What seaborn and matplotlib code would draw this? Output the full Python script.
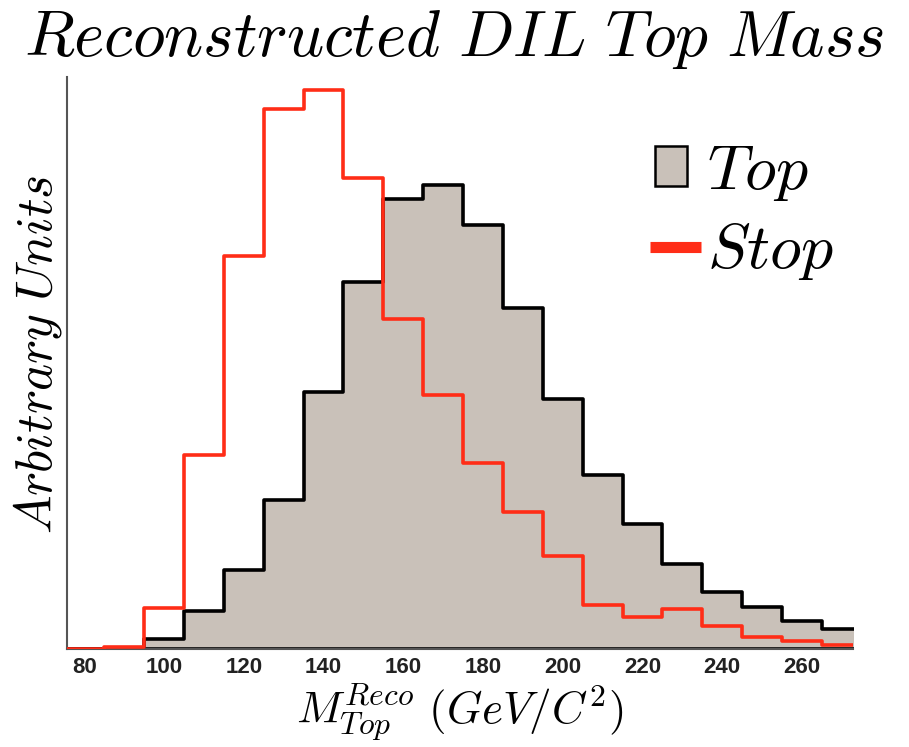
import numpy as np
import pandas as pd
import seaborn as sns
import matplotlib
matplotlib.use("Agg")
import matplotlib.pyplot as plt
from matplotlib.patches import Patch, Rectangle
from matplotlib.lines import Line2D
from matplotlib.legend_handler import HandlerPatch

# Reconstructed dilepton top-mass spectra, 10 GeV bins from 75 to 275
bin_edges = [75, 85, 95, 105, 115, 125, 135, 145, 155, 165, 175,
             185, 195, 205, 215, 225, 235, 245, 255, 265, 275]
top_counts = [0, 0, 10, 38, 79, 149, 257, 367, 450, 464,
              424, 341, 250, 174, 125, 85, 57, 42, 28, 20]
stop_counts = [0, 2, 41, 194, 393, 540, 559, 471, 330, 254,
               186, 137, 93, 44, 32, 40, 23, 12, 8, 4]
x_ticks = [80, 100, 120, 140, 160, 180, 200, 220, 240, 260]

centers = [(a + b) / 2 for a, b in zip(bin_edges[:-1], bin_edges[1:])]
df = pd.DataFrame({"mass": centers, "top": top_counts, "stop": stop_counts})

sns.set_style("white")
plt.rcParams["mathtext.fontset"] = "cm"
plt.rcParams["text.color"] = "black"
plt.rcParams["axes.labelcolor"] = "black"

TOP_FILL = "#c9c1b9"
STOP_RED = "#ff2d17"


class SmallBoxHandler(HandlerPatch):
    """Legend key drawn as a compact square box."""

    def create_artists(self, legend, orig_handle, xdescent, ydescent,
                       width, height, fontsize, trans):
        w = width * 0.62
        h = height * 1.05
        x0 = -xdescent + (width - w) / 2 - width * 0.09
        y0 = -ydescent + (height - h) / 2
        rect = Rectangle((x0, y0), w, h,
                         facecolor=orig_handle.get_facecolor(),
                         edgecolor=orig_handle.get_edgecolor(),
                         linewidth=orig_handle.get_linewidth())
        rect.set_transform(trans)
        return [rect]


fig = plt.figure(figsize=(9.09, 7.47), dpi=100)
ax = fig.add_axes([0.0734, 0.1312, 0.8650, 0.7657])

sns.histplot(data=df, x="mass", weights="top", bins=bin_edges,
             element="step", fill=True, color=TOP_FILL, alpha=1.0,
             edgecolor="black", linewidth=2.6, ax=ax, zorder=2)
sns.histplot(data=df, x="mass", weights="stop", bins=bin_edges,
             element="step", fill=False, color=STOP_RED,
             linewidth=2.6, ax=ax, zorder=3)

ax.set_xlim(75.6, 272.8)
ax.set_ylim(0, 572)
ax.set_xticks(x_ticks)
ax.set_xticklabels([str(t) for t in x_ticks], fontfamily="Liberation Sans",
                   fontweight="bold", fontsize=16, color="#222222")
ax.set_yticks([])
ax.tick_params(axis="x", length=0, pad=6)

for side in ("top", "right"):
    ax.spines[side].set_visible(False)
for side in ("left", "bottom"):
    ax.spines[side].set_color("#555555")
    ax.spines[side].set_linewidth(1.5)

ax.set_xlabel(r"$M_{Top}^{Reco}\ (GeV/C^2)$", fontsize=32.5, labelpad=3)
ax.set_ylabel(r"$Arbitrary\ Units$", fontsize=37)
ax.yaxis.set_label_coords(-0.004, 0.515)
fig.suptitle(r"$Reconstructed\ DIL\ Top\ Mass$", fontsize=47, y=0.99)

handles = [Patch(facecolor=TOP_FILL, edgecolor="black", linewidth=1.8),
           Line2D([0], [0], color=STOP_RED, linewidth=8, solid_capstyle="butt")]
ax.legend(handles, [r"$Top$", r"$Stop$"], loc="upper right",
          bbox_to_anchor=(1.008, 0.935), frameon=False, fontsize=46,
          handlelength=0.8, handleheight=0.55, handletextpad=0.1,
          labelspacing=0.25, borderaxespad=0.0,
          handler_map={Patch: SmallBoxHandler()})

fig.savefig("out.png", dpi=100)
